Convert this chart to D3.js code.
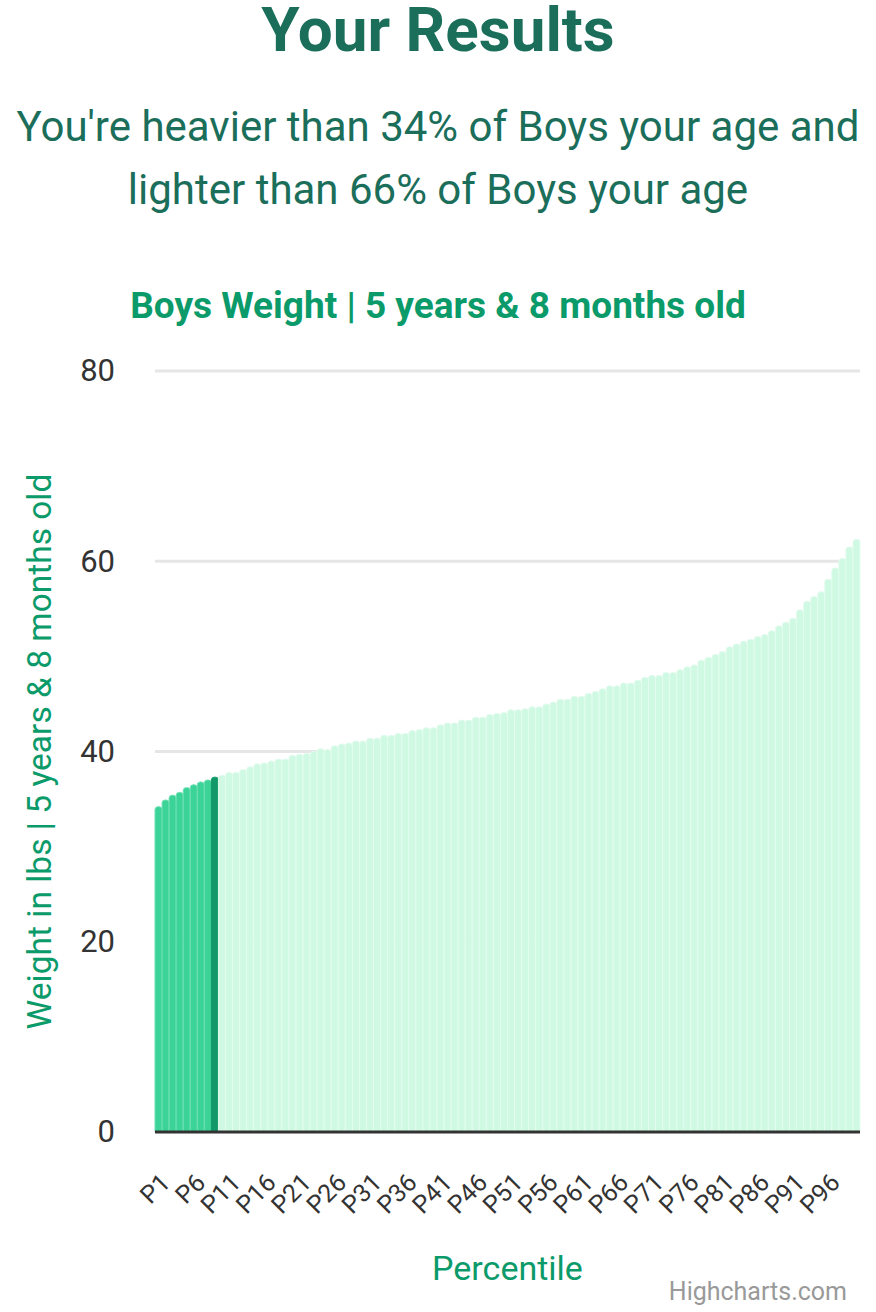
<!DOCTYPE html>
<html>
<head>
<meta charset="utf-8">
<script src="https://cdn.jsdelivr.net/npm/d3@7"></script>
<style>
  body { margin: 0; background: #fff; font-family: Roboto, "Noto Sans", sans-serif; }
</style>
</head>
<body>
<div class="chart"></div>
<script>
// percentile weight chart, highcharts look-alike

var w = 876, h = 1312;

var percentiles = d3.range(1, 101).map(function(p) { return 'P' + p; });
var weights = [
  34.2, 34.9, 35.4, 35.7, 36.2, 36.5, 36.8, 37.0, 37.3, 37.5,
  37.8, 37.8, 38.1, 38.4, 38.7, 38.8, 39.0, 39.2, 39.2, 39.6,
  39.7, 39.8, 40.0, 40.3, 40.2, 40.6, 40.8, 40.9, 41.1, 41.1,
  41.4, 41.4, 41.7, 41.7, 41.9, 41.9, 42.2, 42.3, 42.5, 42.5,
  42.8, 43.0, 43.0, 43.3, 43.3, 43.6, 43.6, 43.9, 44.0, 44.1,
  44.4, 44.4, 44.5, 44.7, 44.7, 45.0, 45.2, 45.5, 45.5, 45.8,
  45.8, 46.1, 46.3, 46.6, 46.9, 46.9, 47.2, 47.2, 47.5, 47.8,
  48.0, 48.0, 48.3, 48.3, 48.6, 48.9, 49.1, 49.6, 49.9, 50.2,
  50.5, 51.0, 51.3, 51.6, 51.8, 52.1, 52.3, 52.7, 53.2, 53.6,
  54.0, 54.9, 55.8, 56.3, 56.8, 58.1, 59.3, 60.3, 61.5, 62.3
];
var yTicks = [0, 20, 40, 60, 80];
var xTickLabels = percentiles.filter(function(d, i) { return i % 5 === 0; });
var userIndex = 8; // the highlighted bar

var margin = {top: 371, right: 16, bottom: 180, left: 155};

var svg = d3.select('.chart').append('svg')
  .attr('width', w)
  .attr('height', h);

var x = d3.scaleBand()
  .domain(percentiles)
  .range([margin.left, w - margin.right])
  .padding(0);

var y = d3.scaleLinear()
  .domain([0, 80])
  .range([h - margin.bottom, margin.top]);

// headings
svg.append('text')
  .attr('x', w / 2).attr('y', 51)
  .attr('text-anchor', 'middle')
  .style('font-size', '62px').style('font-weight', 'bold')
  .style('fill', '#1a6e5a')
  .text('Your Results');

var sub = ["You're heavier than 34% of Boys your age and", 'lighter than 66% of Boys your age'];
svg.selectAll('.sub').data(sub).enter().append('text')
  .attr('x', w / 2)
  .attr('y', function(d, i) { return 141 + i * 63; })
  .attr('text-anchor', 'middle')
  .style('font-size', '42px')
  .style('fill', '#1a6e5a')
  .text(function(d) { return d; });

svg.append('text')
  .attr('x', 438).attr('y', 318)
  .attr('text-anchor', 'middle')
  .style('font-size', '37px').style('font-weight', 'bold')
  .style('fill', '#0b9a69')
  .text('Boys Weight | 5 years & 8 months old');

// grid
svg.append('g').selectAll('line')
  .data(yTicks.filter(function(d) { return d > 0; }))
  .enter().append('line')
  .attr('x1', margin.left).attr('x2', w - margin.right)
  .attr('y1', function(d) { return y(d); })
  .attr('y2', function(d) { return y(d); })
  .attr('stroke', '#e6e6e6').attr('stroke-width', 3);

// bars with rounded tops
function barPath(d, i) {
  var x0 = x(percentiles[i]), bw = x.bandwidth();
  var top = y(d), bot = y(0), r = 3;
  return 'M' + x0 + ',' + bot +
    'V' + (top + r) +
    'Q' + x0 + ',' + top + ' ' + (x0 + r) + ',' + top +
    'H' + (x0 + bw - r) +
    'Q' + (x0 + bw) + ',' + top + ' ' + (x0 + bw) + ',' + (top + r) +
    'V' + bot + 'Z';
}

svg.append('g').selectAll('path')
  .data(weights)
  .enter().append('path')
  .attr('d', barPath)
  .attr('fill', function(d, i) {
    if (i === userIndex) return '#12996a';
    return i < userIndex ? '#3bd398' : '#cff9e3';
  })
  .attr('stroke', function(d, i) {
    if (i === userIndex) return '#12996a';
    return i < userIndex ? '#6ee0b4' : '#e3fcef';
  })
  .attr('stroke-width', 1);

// x axis line
svg.append('line')
  .attr('x1', margin.left).attr('x2', w - margin.right)
  .attr('y1', y(0)).attr('y2', y(0))
  .attr('stroke', '#333').attr('stroke-width', 3);

// y axis labels
var yAxis = d3.axisLeft(y).tickValues(yTicks).tickSize(0).tickPadding(40);
svg.append('g')
  .attr('transform', 'translate(' + margin.left + ',0)')
  .call(yAxis)
  .call(function(g) { g.select('.domain').remove(); })
  .selectAll('text')
  .style('font-family', 'Roboto, sans-serif')
  .style('font-size', '31px')
  .style('fill', '#333');

// x axis labels
var xAxis = d3.axisBottom(x).tickValues(xTickLabels).tickSize(0).tickPadding(0);
svg.append('g')
  .attr('transform', 'translate(0,' + y(0) + ')')
  .call(xAxis)
  .call(function(g) { g.select('.domain').remove(); })
  .selectAll('text')
  .style('font-family', 'Roboto, sans-serif')
  .style('font-size', '25px')
  .style('fill', '#333')
  .attr('text-anchor', 'end')
  .attr('dy', '0.35em')
  .attr('transform', 'translate(7,46) rotate(-45)');

// axis titles
svg.append('text')
  .attr('transform', 'translate(51,' + ((y(0) + y(80)) / 2) + ') rotate(-90)')
  .attr('text-anchor', 'middle')
  .style('font-size', '33.5px')
  .style('fill', '#0b9a69')
  .text('Weight in lbs | 5 years & 8 months old');

svg.append('text')
  .attr('x', (margin.left + w - margin.right) / 2).attr('y', 1280)
  .attr('text-anchor', 'middle')
  .style('font-size', '34px')
  .style('fill', '#0b9a69')
  .text('Percentile');

svg.append('text')
  .attr('x', 847).attr('y', 1300)
  .attr('text-anchor', 'end')
  .style('font-size', '25px')
  .style('fill', '#999')
  .text('Highcharts.com');
</script>
</body>
</html>
